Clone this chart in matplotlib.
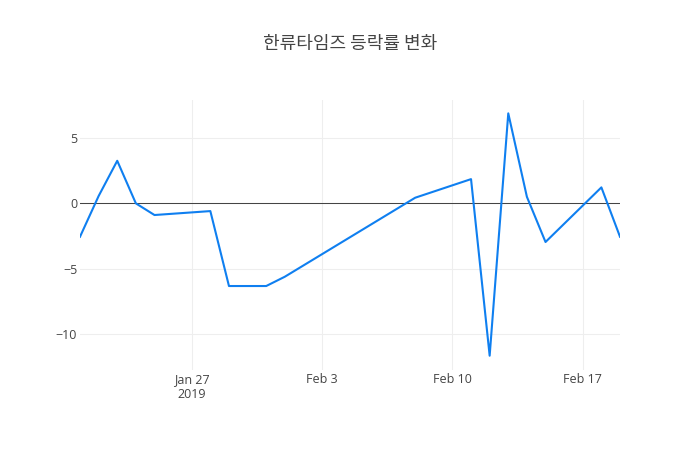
import matplotlib
matplotlib.use('Agg')
import matplotlib.pyplot as plt
import numpy as np

plt.rcParams['font.family'] = ['Open Sans', 'Noto Sans CJK KR', 'DejaVu Sans']

dates = ['2019-01-21', '2019-01-22', '2019-01-23', '2019-01-24', '2019-01-25',
         '2019-01-28', '2019-01-29', '2019-01-30', '2019-01-31', '2019-02-01',
         '2019-02-08', '2019-02-11', '2019-02-12', '2019-02-13', '2019-02-14',
         '2019-02-15', '2019-02-18', '2019-02-19']
changes = [-2.55, 0.56, 3.25, 0.0, -0.89,
           -0.59, -6.31, -6.31, -6.31, -5.6,
           0.43, 1.85, -11.63, 6.87, 0.5,
           -2.95, 1.22, -2.55]

tick_dates = ['2019-01-27', '2019-02-03', '2019-02-10', '2019-02-17']
tick_labels = ['Jan 27\n2019', 'Feb 3', 'Feb 10', 'Feb 17']
y_ticks = [-10, -5, 0, 5]

x = np.array(dates, dtype='datetime64[D]')

fig = plt.figure(figsize=(7, 4.5), dpi=100)
ax = fig.add_axes([80 / 700, 80 / 450, 540 / 700, 270 / 450])

ax.plot(x, changes, color='#0f7ff0', linewidth=1.5, zorder=3)
ax.axhline(0, color='#444444', linewidth=0.75, zorder=2)

ax.set_xlim(x[0], x[-1])
ax.set_ylim(-12.72, 7.89)

ax.set_xticks(np.array(tick_dates, dtype='datetime64[D]'))
ax.set_xticklabels(tick_labels, linespacing=1.25)
ax.set_yticks(y_ticks)
ax.set_yticklabels(['\u221210', '\u22125', '0', '5'])

ax.grid(True, color='#eeeeee', linewidth=0.75, zorder=0)
for s in ax.spines.values():
    s.set_visible(False)
ax.tick_params(length=0, labelsize=9, colors='#444444')
ax.tick_params(axis='x', pad=2)
ax.tick_params(axis='y', pad=2)

fig.text(0.5, 1 - 44 / 450, '한류타임즈 등락률 변화', ha='center', va='center',
         fontsize=13, color='#444444', family=['Noto Sans CJK KR', 'DejaVu Sans'])

fig.savefig('out.png', dpi=100, facecolor='white')
